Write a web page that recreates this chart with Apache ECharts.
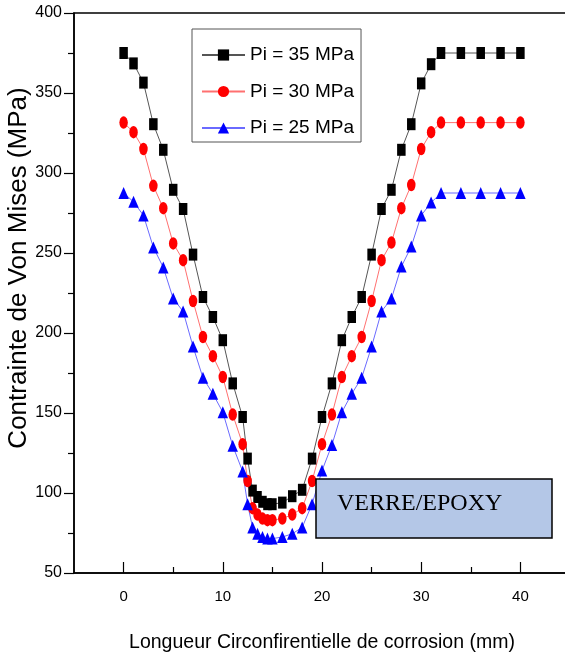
<!DOCTYPE html>
<html>
<head>
<meta charset="utf-8">
<title>Contrainte de Von Mises</title>
<script src="https://cdn.jsdelivr.net/npm/echarts@6/dist/echarts.min.js"></script>
<style>
  html, body { margin: 0; padding: 0; background: #fff; }
  #chart { width: 565px; height: 658px; }
</style>
</head>
<body>
<div id="chart"></div>
<script>
// longueur circonferentielle (mm)
var xValues = [0, 1, 2, 3, 4, 5, 6, 7, 8, 9, 10, 11, 12, 12.5, 13, 13.5, 14, 14.5, 15, 16, 17, 18, 19,
  20, 21, 22, 23, 24, 25, 26, 27, 28, 29, 30, 31, 32, 34, 36, 38, 40]

// contrainte (MPa) pour chaque pression
var pi35 = [375, 368.5, 356.5, 330.5, 314.5, 289.5, 277.5, 249, 222.5, 210, 195.5, 168.5, 147.5,
  121.5, 101.5, 97.5, 94.5, 93, 93, 94, 98, 102, 121.5,
  147.5, 168.5, 195.5, 210, 222.5, 249, 277.5, 289.5, 314.5, 330.5, 356, 368, 375, 375, 375, 375, 375]
var pi30 = [331.5, 325.5, 315, 292, 278, 256, 245.5, 220, 197.5, 185.5, 172.5, 149, 130.5,
  107.5, 90.5, 86.5, 84, 83, 83, 84, 86.5, 90.5, 107.5,
  130.5, 149, 172.5, 185.5, 197.5, 220, 245.5, 256.5, 278, 292.5, 315, 325.5, 331.5, 331.5, 331.5, 331.5, 331.5]
var pi25 = [287.5, 282, 273.5, 253.5, 241, 221.5, 213.5, 191.5, 172, 162, 150.5, 129.5, 113.5,
  93, 78.5, 74.5, 72.5, 71.5, 71.5, 72.5, 74.5, 78.5, 93,
  114, 130, 150.5, 162, 172, 191.5, 213.5, 221.5, 241.5, 254, 273.5, 281.5, 287.5, 287.5, 287.5, 287.5, 287.5]

var seriesNames = ['Pi = 35 MPa', 'Pi = 30 MPa', 'Pi = 25 MPa']
var xMajorTicks = [0, 10, 20, 30, 40]
var xMinorTicks = [5, 15, 25, 35]

var sans = "'Liberation Sans', Arial, sans-serif"
var ellipse = 'path://M50,0A50,50 0 1,1 50,100A50,50 0 1,1 50,0Z'

function pairs(ys) {
  return xValues.map(function (x, i) { return [x, ys[i]] })
}

var chart = echarts.init(document.getElementById('chart'))

chart.setOption({
  animation: false,
  textStyle: { fontFamily: sans },
  grid: {
    left: 74,
    top: 13,
    width: 496,
    height: 560,
    containLabel: false,
    outerBoundsMode: 'none',
    show: true,
    borderColor: '#000',
    borderWidth: 1.5,
    backgroundColor: 'transparent'
  },
  legend: {
    data: seriesNames,
    orient: 'vertical',
    left: 192,
    top: 29,
    padding: [15, 7, 3, 9],
    itemWidth: 43,
    itemHeight: 14,
    itemGap: 14.5,
    borderColor: '#555',
    borderWidth: 1,
    textStyle: {
      fontFamily: sans,
      fontSize: 19,
      lineHeight: 22,
      color: '#000'
    }
  },
  xAxis: [
    {
      type: 'value',
      min: -5,
      max: 45,
      name: 'Longueur Circonfirentielle de corrosion (mm)',
      nameLocation: 'middle',
      nameGap: 60,
      nameMoveOverlap: false,
      nameTextStyle: { fontFamily: sans, fontSize: 19.5, color: '#000' },
      axisLine: { onZero: false, lineStyle: { color: '#000', width: 1.5 } },
      axisTick: { inside: true, length: 11, customValues: xMajorTicks, lineStyle: { color: '#000', width: 1.2 } },
      axisLabel: { customValues: xMajorTicks, margin: 16, fontSize: 15, color: '#000', fontFamily: sans },
      splitLine: { show: false }
    },
    {
      type: 'value',
      min: -5,
      max: 45,
      position: 'bottom',
      axisLine: { show: false, onZero: false },
      axisTick: { inside: true, length: 6, customValues: xMinorTicks, lineStyle: { color: '#000', width: 1.2 } },
      axisLabel: { show: false },
      splitLine: { show: false }
    }
  ],
  yAxis: {
    type: 'value',
    min: 50,
    max: 400,
    interval: 50,
    name: 'Contrainte de Von Mises (MPa)',
    nameLocation: 'middle',
    nameGap: 42,
    nameMoveOverlap: false,
    nameTextStyle: { fontFamily: sans, fontSize: 26, color: '#000', padding: [0, 0, 0, 50] },
    axisLine: { show: true, onZero: false, lineStyle: { color: '#000', width: 1.5 } },
    axisTick: { length: 10, lineStyle: { color: '#000', width: 1.2 } },
    minorTick: { show: true, splitNumber: 2, length: 6, lineStyle: { color: '#000', width: 1.2 } },
    axisLabel: { margin: 12, fontSize: 16, color: '#000', fontFamily: sans },
    splitLine: { show: false },
    minorSplitLine: { show: false }
  },
  series: [
    {
      name: seriesNames[0],
      type: 'line',
      data: pairs(pi35),
      symbol: 'rect',
      symbolSize: [8.5, 12],
      itemStyle: { color: '#000' },
      lineStyle: { color: '#555', width: 1 }
    },
    {
      name: seriesNames[1],
      type: 'line',
      data: pairs(pi30),
      symbol: ellipse,
      symbolSize: [8.5, 12.5],
      itemStyle: { color: '#ff0000' },
      lineStyle: { color: '#ff7070', width: 1 }
    },
    {
      name: seriesNames[2],
      type: 'line',
      data: pairs(pi25),
      symbol: 'triangle',
      symbolSize: [10.5, 12],
      itemStyle: { color: '#0000ff' },
      lineStyle: { color: '#6a6aff', width: 1 }
    }
  ],
  // cartouche du materiau
  graphic: [
    {
      type: 'rect',
      z: 100,
      shape: { x: 316, y: 479, width: 236, height: 59 },
      style: { fill: '#b4c7e7', stroke: '#000', lineWidth: 1.5 }
    },
    {
      type: 'text',
      z: 101,
      x: 337,
      y: 504,
      style: {
        text: 'VERRE/EPOXY',
        font: "24px 'Liberation Serif', 'Times New Roman', serif",
        fill: '#000',
        verticalAlign: 'middle'
      }
    }
  ]
})
</script>
</body>
</html>
